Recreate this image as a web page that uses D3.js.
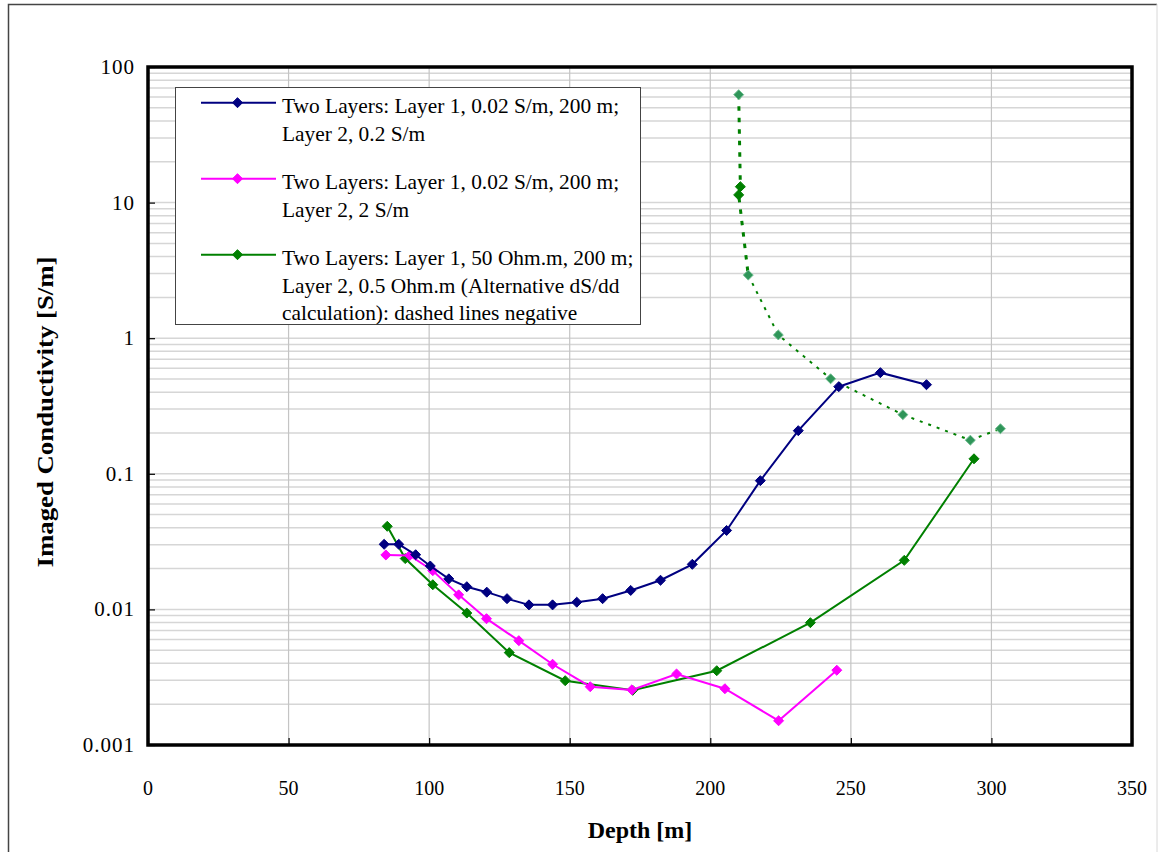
<!DOCTYPE html>
<html>
<head>
<meta charset="utf-8">
<script src="https://cdn.jsdelivr.net/npm/d3@7"></script>
<style>
  html, body { margin: 0; padding: 0; background: #fff; }
  svg { display: block; }
  text { font-family: "Liberation Serif", "Times New Roman", serif; fill: #000; }
</style>
</head>
<body>
<svg id="chart" width="1158" height="852"></svg>
<script>
// Depth [m] and imaged conductivity [S/m] for each model run
const blueDepth = [84.0, 89.2, 95.2, 100.4, 107.0, 113.4, 120.5, 127.7, 135.5, 143.9, 152.5, 161.7, 171.7, 182.3, 193.6, 205.8, 217.8, 231.3, 245.7, 260.5, 276.9];
const blueValue = [0.0302, 0.0302, 0.0253, 0.0209, 0.0168, 0.0147, 0.0134, 0.0120, 0.0108, 0.0108, 0.0113, 0.0120, 0.0138, 0.0164, 0.0215, 0.0382, 0.089, 0.208, 0.439, 0.557, 0.454];

const pinkDepth = [84.6, 93.1, 101.3, 110.5, 120.4, 131.9, 143.9, 157.3, 172.1, 188.0, 205.2, 224.3, 245.0];
const pinkValue = [0.0252, 0.0250, 0.0193, 0.0128, 0.00854, 0.00588, 0.00394, 0.00269, 0.00255, 0.00334, 0.00260, 0.00151, 0.00356];

const greenDepth = [85.1, 91.5, 101.3, 113.4, 128.5, 148.4, 172.4, 202.3, 235.6, 269.0, 293.8];
const greenValue = [0.0410, 0.0237, 0.0152, 0.0094, 0.0048, 0.00298, 0.00253, 0.00353, 0.00798, 0.0230, 0.129];

// Negative part of the alternative dS/dd calculation, plotted as magnitude
const negDepth = [210.1, 210.7, 210.1, 213.5, 224.2, 242.8, 268.5, 292.5, 303.2];
const negValue = [62.5, 13.1, 11.4, 2.92, 1.057, 0.502, 0.273, 0.177, 0.215];
const negSolidMarkers = [1, 2];

const xTicks = [0, 50, 100, 150, 200, 250, 300, 350];
const yTicks = [0.001, 0.01, 0.1, 1, 10, 100];
const yTickLabels = ["0.001", "0.01", "0.1", "1", "10", "100"];

const legendLines = [
  ["Two Layers: Layer 1, 0.02 S/m, 200 m;", "Layer 2, 0.2 S/m"],
  ["Two Layers: Layer 1, 0.02 S/m, 200 m;", "Layer 2, 2 S/m"],
  ["Two Layers: Layer 1, 50 Ohm.m, 200 m;", "Layer 2, 0.5 Ohm.m (Alternative dS/dd", "calculation): dashed lines negative"]
];
const seriesColors = ["#000080", "#ff00ff", "#008000"];

const SERIF = "'Liberation Serif', 'Times New Roman', serif";
const svg = d3.select("#chart");
const L = 148, R = 1132, T = 67, B = 745;

const x = d3.scaleLinear().domain([0, 350]).range([L, R]);
const y = d3.scaleLog().domain([0.001, 100]).range([B, T]);

// outer frame
svg.append("path").attr("d", "M8.5,870 V4.5 H1157").attr("fill", "none").attr("stroke", "#444").attr("stroke-width", 1.5);
svg.append("line").attr("x1", 1157).attr("x2", 1157).attr("y1", 4).attr("y2", 852).attr("stroke", "#d8d8d8").attr("stroke-width", 1);

// horizontal grid at every log step
const gridVals = [];
for (let e = -3; e < 2; e++) for (let m = 1; m <= 9; m++) gridVals.push(m * Math.pow(10, e));
gridVals.push(100);
svg.append("g").selectAll("line").data(gridVals).join("line")
  .attr("x1", L).attr("x2", R)
  .attr("y1", d => y(d)).attr("y2", d => y(d))
  .attr("stroke", "#d6d6d6").attr("stroke-width", 1.5);

// vertical grid
svg.append("g").selectAll("line").data(xTicks.slice(1, -1)).join("line")
  .attr("x1", d => x(d)).attr("x2", d => x(d))
  .attr("y1", T).attr("y2", B)
  .attr("stroke", "#c4c4c4").attr("stroke-width", 1.2);

// axes: inner ticks, custom labels
const xAxis = svg.append("g").attr("transform", `translate(0,${B})`)
  .call(d3.axisTop(x).tickValues(xTicks).tickSize(7).tickFormat(""));
xAxis.select(".domain").remove();
xAxis.selectAll("line").attr("stroke", "#000").attr("stroke-width", 1.2);

const yAxis = svg.append("g").attr("transform", `translate(${L},0)`)
  .call(d3.axisRight(y).tickValues(yTicks).tickSize(7).tickFormat(""));
yAxis.select(".domain").remove();
yAxis.selectAll("line").attr("stroke", "#000").attr("stroke-width", 1.2);

svg.append("g").selectAll("text").data(xTicks).join("text")
  .attr("x", d => x(d)).attr("y", 795)
  .attr("text-anchor", "middle").attr("font-family", SERIF).attr("font-size", 20)
  .text(d => d);

svg.append("g").selectAll("text").data(yTicks).join("text")
  .attr("x", 135).attr("y", d => y(d) + 7)
  .attr("text-anchor", "end").attr("font-family", SERIF).attr("font-size", 21)
  .attr("letter-spacing", 1)
  .text((d, i) => yTickLabels[i]);

// axis titles
svg.append("text").attr("x", (L + R) / 2).attr("y", 838)
  .attr("text-anchor", "middle").attr("font-family", SERIF).attr("font-size", 24).attr("font-weight", "bold")
  .text("Depth [m]");
svg.append("text").attr("transform", "translate(53,412) rotate(-90)")
  .attr("text-anchor", "middle").attr("font-family", SERIF).attr("font-size", 24).attr("font-weight", "bold")
  .attr("textLength", 311).attr("lengthAdjust", "spacingAndGlyphs")
  .text("Imaged Conductivity [S/m]");

const diamond = d3.symbol().type(d3.symbolDiamond2).size(64);
const line = d3.line().x(d => x(d[0])).y(d => y(d[1]));

function drawSeries(depth, value, color) {
  const pts = depth.map((d, i) => [d, value[i]]);
  svg.append("path").datum(pts).attr("d", line)
    .attr("fill", "none").attr("stroke", color).attr("stroke-width", 2);
  svg.append("g").selectAll("path").data(pts).join("path")
    .attr("d", diamond)
    .attr("transform", d => `translate(${x(d[0])},${y(d[1])})`)
    .attr("fill", color).attr("stroke", color).attr("stroke-width", 1);
}

// negative magnitudes: dashed upper run, dotted lower run
const negPts = negDepth.map((d, i) => [d, negValue[i]]);
svg.append("path").datum(negPts.slice(0, 4)).attr("d", line)
  .attr("fill", "none").attr("stroke", "#008000").attr("stroke-width", 3)
  .attr("stroke-dasharray", "4.5,7");
svg.append("path").datum(negPts.slice(3)).attr("d", line)
  .attr("fill", "none").attr("stroke", "#008000").attr("stroke-width", 2)
  .attr("stroke-dasharray", "3,6");

drawSeries(greenDepth, greenValue, seriesColors[2]);
drawSeries(pinkDepth, pinkValue, seriesColors[1]);
drawSeries(blueDepth, blueValue, seriesColors[0]);

svg.append("g").selectAll("path").data(negPts).join("path")
  .attr("d", diamond)
  .attr("transform", d => `translate(${x(d[0])},${y(d[1])})`)
  .attr("fill", (d, i) => negSolidMarkers.includes(i) ? "#008000" : "#2f9559")
  .attr("stroke", (d, i) => negSolidMarkers.includes(i) ? "#008000" : "#74c093")
  .attr("stroke-width", 1);

// plot frame
svg.append("rect").attr("x", L).attr("y", T).attr("width", R - L).attr("height", B - T)
  .attr("fill", "none").attr("stroke", "#000").attr("stroke-width", 3.5);

// legend
const lg = svg.append("g");
lg.append("rect").attr("x", 175.5).attr("y", 87.5).attr("width", 465).attr("height", 237)
  .attr("fill", "#fff").attr("stroke", "#444").attr("stroke-width", 1);
const entryY = [102.7, 178.7, 254.7];
legendLines.forEach((lines, k) => {
  lg.append("line").attr("x1", 201).attr("x2", 276).attr("y1", entryY[k]).attr("y2", entryY[k])
    .attr("stroke", seriesColors[k]).attr("stroke-width", 2);
  lg.append("path").attr("d", diamond).attr("transform", `translate(237.5,${entryY[k]})`)
    .attr("fill", seriesColors[k]).attr("stroke", seriesColors[k]);
  const t = lg.append("text").attr("x", 282).attr("y", entryY[k] + 10.5)
    .attr("font-family", SERIF).attr("font-size", 21.4);
  lines.forEach((s, j) => t.append("tspan").attr("x", 282).attr("dy", j === 0 ? 0 : 27.5).text(s));
});
</script>
</body>
</html>
